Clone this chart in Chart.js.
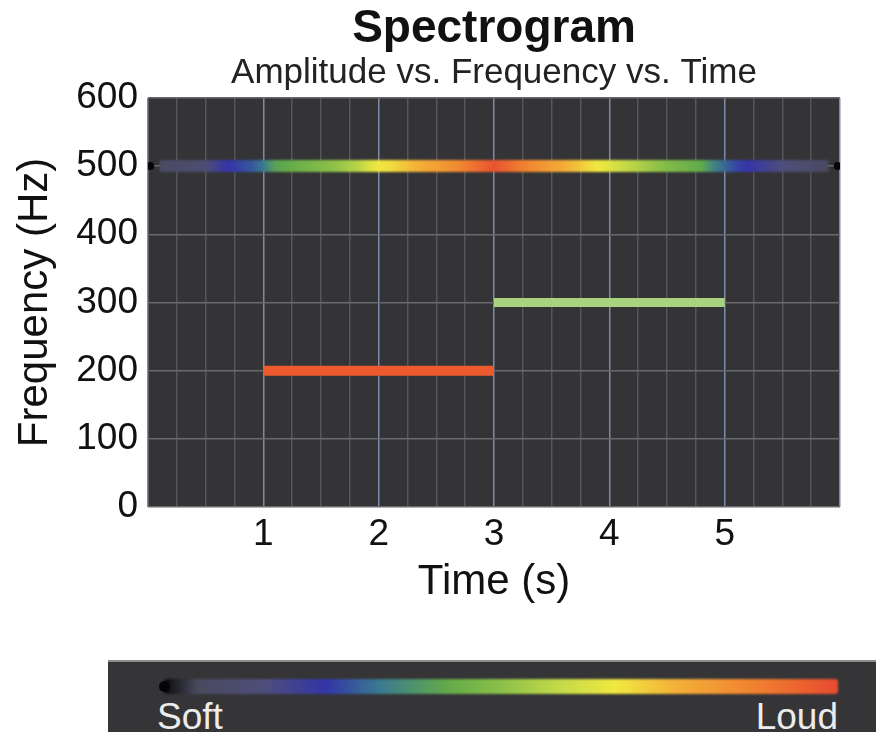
<!DOCTYPE html>
<html><head><meta charset="utf-8">
<script src="https://cdn.jsdelivr.net/npm/chart.js@4.4.0/dist/chart.umd.min.js"></script>
<style>
html,body{margin:0;padding:0;background:#fff;}
#wrap{position:relative;width:876px;height:732px;overflow:hidden;font-family:"Liberation Sans",Arial,sans-serif;}
#c{position:absolute;left:0;top:0;}
#cbar{position:absolute;left:108px;top:660px;width:790px;height:90px;background:#353538;border-top:2px solid #8c8c90;box-sizing:border-box;}
#grad{position:absolute;left:56px;top:17px;width:674px;height:15px;border-radius:3px;filter:blur(1px);}
#dot{position:absolute;left:51px;top:19px;width:11px;height:11px;border-radius:50%;background:#050505;}
#soft,#loud{position:absolute;top:35px;font-size:37px;line-height:40px;color:#ececec;}
#soft{left:49px;}
#loud{right:60px;}
</style></head><body>
<div id="wrap">
<canvas id="c" width="876" height="732"></canvas>
<div id="cbar"><div id="grad"></div><div id="dot"></div><span id="soft">Soft</span><span id="loud">Loud</span></div>
</div>
<script>
// ---- data ----
const times500 = [0.1,0.2,0.3,0.4,0.5,0.6,0.7,0.8,0.9,1.0,1.1,1.2,1.3,1.4,1.5,1.6,1.7,1.8,1.9,2.0,2.1,2.2,2.3,2.4,2.5,2.6,2.7,2.8,2.9,3.0,3.1,3.2,3.3,3.4,3.5,3.6,3.7,3.8,3.9,4.0,4.1,4.2,4.3,4.4,4.5,4.6,4.7,4.8,4.9,5.0,5.1,5.2,5.3,5.4,5.5,5.6,5.7,5.8,5.9];
const amp500 = [0.06,0.08,0.09,0.10,0.12,0.20,0.24,0.26,0.28,0.32,0.40,0.42,0.44,0.46,0.48,0.50,0.53,0.56,0.62,0.67,0.69,0.72,0.75,0.78,0.80,0.83,0.86,0.90,0.94,0.98,0.94,0.90,0.86,0.83,0.80,0.77,0.74,0.70,0.67,0.64,0.60,0.57,0.54,0.51,0.48,0.46,0.44,0.42,0.34,0.30,0.26,0.24,0.21,0.18,0.15,0.12,0.10,0.08,0.06];
const freq500 = 500;
const times200 = [1.0, 3.0];
const freq200 = 200;
const times300 = [3.0, 5.0];
const freq300 = 300;
const edgeTimes = [0.02, 5.98];
const xTickLabels = [1,2,3,4,5];
const yTickValues = [0,100,200,300,400,500,600];
const colorStopsPos = [0.00,0.05,0.15,0.24,0.32,0.42,0.50,0.58,0.67,0.76,0.88,1.00];
const colorStopsCol = ['#0a0a0a','#4a4a5e','#4e4e7c','#3434a8','#3a7a90','#62aa4a','#8cc048','#c0d848','#f0e840','#f4b038','#f08030','#e84a30'];

function hex(c){return [parseInt(c.slice(1,3),16),parseInt(c.slice(3,5),16),parseInt(c.slice(5,7),16)];}
function colormap(v){
  v=Math.max(0,Math.min(1,v));
  for(let i=1;i<colorStopsPos.length;i++){
    if(v<=colorStopsPos[i]){
      const f=(v-colorStopsPos[i-1])/(colorStopsPos[i]-colorStopsPos[i-1]);
      const a=hex(colorStopsCol[i-1]),b=hex(colorStopsCol[i]);
      return 'rgb('+a.map((x,k)=>Math.round(x+(b[k]-x)*f)).join(',')+')';
    }
  }
  return colorStopsCol[colorStopsCol.length-1];
}
document.getElementById('grad').style.background='linear-gradient(to right,'+colorStopsPos.map((p,i)=>colorStopsCol[i]+' '+(p*100)+'%').join(',')+')';

const FONT = '"Liberation Sans", Arial, sans-serif';

function amplitudeGradient(ctx){
  const chart = ctx.chart;
  if(!chart.chartArea || !chart.scales.x) return colormap(amp500[0]);
  const xs = chart.scales.x;
  const x0 = xs.getPixelForValue(times500[0]);
  const x1 = xs.getPixelForValue(times500[times500.length-1]);
  const g = chart.ctx.createLinearGradient(x0,0,x1,0);
  times500.forEach((t,i)=>{
    g.addColorStop((xs.getPixelForValue(t)-x0)/(x1-x0), colormap(amp500[i]));
  });
  return g;
}

const bgPlugin = {
  id:'plotBg',
  beforeDraw(chart){
    const {ctx, chartArea:a} = chart;
    ctx.save(); ctx.fillStyle='#343437'; ctx.fillRect(a.left,a.top,a.right-a.left,a.bottom-a.top); ctx.restore();
  },
  beforeDatasetDraw(chart,args){
    if(args.index<3){ chart.ctx.save(); chart.ctx.filter = args.index===0 ? 'blur(1.3px)' : 'blur(0.7px)'; }
  },
  afterDatasetDraw(chart,args){
    if(args.index<3){ chart.ctx.restore(); }
  }
};

new Chart(document.getElementById('c'), {
  type:'line',
  data:{
    datasets:[
      {
        label:'500 Hz',
        data: times500.map(t=>({x:t,y:freq500})),
        borderWidth:12,
        borderCapStyle:'butt',
        pointRadius:0,
        borderColor: amplitudeGradient
      },
      {
        label:'200 Hz',
        data: times200.map(t=>({x:t,y:freq200})),
        borderColor:'#ec5a2e', borderWidth:10, borderCapStyle:'butt', pointRadius:0
      },
      {
        label:'300 Hz',
        data: times300.map(t=>({x:t,y:freq300})),
        borderColor:'#a8d47e', borderWidth:9, borderCapStyle:'butt', pointRadius:0
      },
      {
        label:'edges',
        data: edgeTimes.map(t=>({x:t,y:freq500})),
        showLine:false, pointRadius:4, pointBackgroundColor:'#050505', pointBorderWidth:0
      }
    ]
  },
  options:{
    responsive:false,
    animation:false,
    layout:{padding:{left:0,right:36,top:0,bottom:105}},
    plugins:{
      legend:{display:false},
      tooltip:{enabled:false},
      title:{display:true,text:'Spectrogram',fullSize:false,color:'#111',
        font:{family:FONT,size:46,weight:'bold',lineHeight:1.15},padding:{top:3,bottom:0}},
      subtitle:{display:true,text:'Amplitude vs. Frequency vs. Time',fullSize:false,color:'#222',
        font:{family:FONT,size:35,lineHeight:1.0},padding:{top:0,bottom:7}}
    },
    scales:{
      x:{
        type:'linear', min:0, max:6,
        border:{display:false},
        grid:{drawTicks:false,tickLength:0,lineWidth:1.5,
          color: c => Number.isInteger(c.tick.value) ? '#7c8ca6' : '#55555a'},
        ticks:{stepSize:0.25,autoSkip:false,maxRotation:0,padding:6,color:'#111',
          font:{family:FONT,size:37},
          callback: v => xTickLabels.includes(v) ? String(v) : ''},
        title:{display:true,text:'Time (s)',color:'#111',font:{family:FONT,size:42},padding:{top:0,bottom:19}},
        afterFit: s => { s.height = 120; }
      },
      y:{
        type:'linear', min:0, max:600,
        border:{display:false},
        grid:{drawTicks:false,tickLength:0,lineWidth:1.5,color:'#69696e'},
        ticks:{stepSize:100,padding:10,color:'#111',font:{family:FONT,size:37},
          callback: v => yTickValues.includes(v) ? String(v) : ''},
        title:{display:true,text:'Frequency (Hz)',color:'#111',font:{family:FONT,size:42},padding:{top:10,bottom:0}},
        afterFit: s => { s.width = 148; }
      }
    }
  },
  plugins:[bgPlugin]
});
</script>
</body></html>
